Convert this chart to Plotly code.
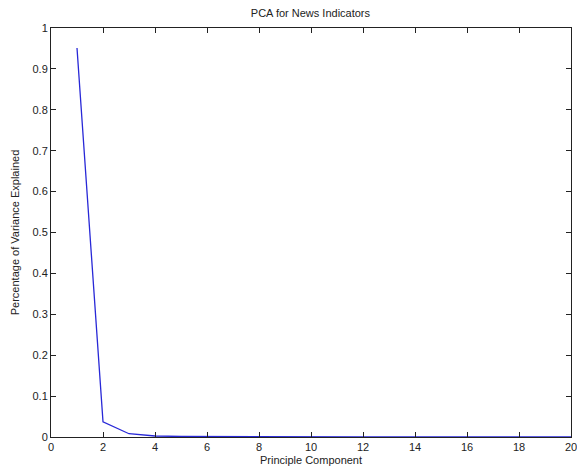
import plotly.graph_objects as go

components = list(range(1, 21))
variance_explained = [0.951, 0.037, 0.008, 0.0025, 0.0012, 0.0008, 0.0006, 0.0005, 0.0004, 0.0003,
                      0.0003, 0.0002, 0.0002, 0.0002, 0.0001, 0.0001, 0.0001, 0.0001, 0.0001, 0.0001]
x_ticks = list(range(0, 21, 2))
y_ticks = [round(i * 0.1, 1) for i in range(11)]
y_tick_labels = ["0", "0.1", "0.2", "0.3", "0.4", "0.5", "0.6", "0.7", "0.8", "0.9", "1"]

fig = go.Figure()
fig.add_trace(go.Scatter(x=components, y=variance_explained, mode="lines",
                         line=dict(color="rgb(40,40,215)", width=1.3), showlegend=False))

font = dict(family="Arial, Liberation Sans, sans-serif", size=11, color="#222")
axis_common = dict(showgrid=False, zeroline=False, showline=True, linecolor="#222", linewidth=1,
                   mirror="ticks", ticks="inside", ticklen=5, tickcolor="#222", tickwidth=1,
                   tickfont=font, ticklabeloverflow="allow", automargin=False)

fig.update_layout(
    width=577, height=474,
    margin=dict(l=51, r=6, t=28, b=37, autoexpand=False),
    paper_bgcolor="white", plot_bgcolor="white",
    title=dict(text="PCA for News Indicators", x=0.538, xanchor="center", y=0.973, yanchor="middle",
               font=dict(family="Arial, Liberation Sans, sans-serif", size=11, color="#222")),
    xaxis=dict(range=[0, 20], tickvals=x_ticks, ticktext=[str(v) for v in x_ticks],
               title=dict(text="Principle Component", font=font, standoff=4), **axis_common),
    yaxis=dict(range=[0, 1], tickvals=y_ticks, ticktext=y_tick_labels,
               title=dict(text="Percentage of Variance Explained", font=font, standoff=10), **axis_common),
)

fig.write_html("out.html")
